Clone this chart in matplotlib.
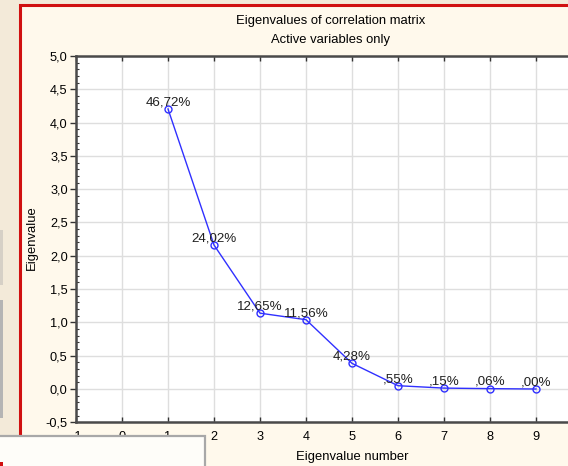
import numpy as np
import matplotlib
matplotlib.use("Agg")
import matplotlib.pyplot as plt
from matplotlib.patches import Rectangle
from matplotlib.ticker import MultipleLocator, FuncFormatter

plt.rcParams['font.family'] = ['Liberation Sans', 'DejaVu Sans']

# eigenvalue number and explained variance (%)
numbers = [1, 2, 3, 4, 5, 6, 7, 8, 9]
percents = [46.72, 24.02, 12.65, 11.56, 4.28, 0.55, 0.15, 0.06, 0.00]
labels = ["46,72%", "24,02%", "12,65%", "11,56%", "4,28%", ",55%", ",15%", ",06%", ",00%"]
n_vars = 9
eigenvalues = [p * n_vars / 100.0 for p in percents]
x_ticks = [-1, 0, 1, 2, 3, 4, 5, 6, 7, 8, 9]

W, H = 568, 466
fig = plt.figure(figsize=(W / 100, H / 100), dpi=100)
fig.patch.set_facecolor('#f3ead9')

# window background with red frame
fig.add_artist(Rectangle((20 / W, -0.1), 1.2, 1 - 4.5 / H + 0.1, transform=fig.transFigure,
                         facecolor='#fff9ec', edgecolor='#d01010', lw=2.2, zorder=0))
# grey strip at the far left
fig.add_artist(Rectangle((0, 1 - 418 / H), 3 / W, 118 / H, transform=fig.transFigure,
                         facecolor='#b4b4b4', edgecolor='none', zorder=0))
fig.add_artist(Rectangle((0, 1 - 285 / H), 3 / W, 55 / H, transform=fig.transFigure,
                         facecolor='#d6d0c6', edgecolor='none', zorder=0))

ax = fig.add_axes([76 / W, 1 - 422.3 / H, 506 / W, 366.3 / H])
ax.set_facecolor('white')
ax.plot(numbers, eigenvalues, color='#3030ff', lw=1.0, marker='o', markersize=5,
        markerfacecolor='none', markeredgecolor='#3030ff', markeredgewidth=1.0, zorder=3)
for x, y, t in zip(numbers, eigenvalues, labels):
    ax.annotate(t, (x, y), xytext=(0, 0.5), textcoords='offset points',
                ha='center', va='bottom', fontsize=9.6, color='#202020', zorder=4)

ax.set_xlim(-1, 10)
ax.set_ylim(-0.5, 5.0)
ax.set_xticks(x_ticks)
ax.yaxis.set_major_locator(MultipleLocator(0.5))
ax.yaxis.set_minor_locator(MultipleLocator(0.1))
ax.yaxis.set_major_formatter(FuncFormatter(lambda v, p: f"{v:.1f}".replace('.', ',')))
ax.xaxis.set_major_formatter(FuncFormatter(lambda v, p: f"{v:.0f}"))
ax.grid(True, which='major', color='#dedede', lw=1.0)
ax.set_axisbelow(True)
for s in ax.spines.values():
    s.set_color('#4a4a4a')
    s.set_linewidth(1.8)
ax.tick_params(axis='y', which='major', direction='out', length=4, width=1, color='#333333',
               labelsize=9.2, pad=2)
ax.tick_params(axis='y', which='minor', direction='in', length=2.5, width=0.8, color='#333333')
ax.tick_params(axis='x', which='major', direction='in', length=3.5, width=1, color='#333333',
               labelsize=9.2, pad=6, top=True)

fig.text(331 / W, 1 - 21 / H, "Eigenvalues of correlation matrix", ha='center', va='center', fontsize=9.4)
fig.text(331 / W, 1 - 40 / H, "Active variables only", ha='center', va='center', fontsize=9.4)
fig.text(352 / W, 1 - 457 / H, "Eigenvalue number", ha='center', va='center', fontsize=9.4)
fig.text(32 / W, 1 - 238 / H, "Eigenvalue", ha='center', va='center', rotation=90, fontsize=9.4)

# white panel overlapping the bottom-left corner
fig.add_artist(Rectangle((-0.1, -0.1), 205 / W + 0.1, 30 / H + 0.1, transform=fig.transFigure,
                         facecolor='#fefdf9', edgecolor='#a8a8a8', lw=1.6, zorder=10))
fig.add_artist(Rectangle((0, 0), 3 / W, 4 / H, transform=fig.transFigure,
                         facecolor='#d01010', edgecolor='none', zorder=11))

fig.savefig('out.png', dpi=100, facecolor=fig.get_facecolor())
